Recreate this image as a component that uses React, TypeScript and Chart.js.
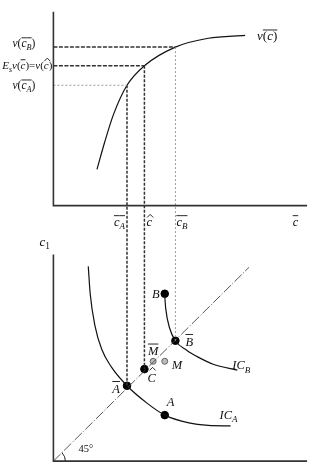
import React, { useEffect, useRef } from "react";
import { Chart, registerables } from "chart.js";

Chart.register(...registerables);

// ---- diagram data (abstract units: x = consumption, y = utility / c1) ----
const X0 = 50;
const X_END = 312;
const TOP_BASE = 267;
const TOP_END = 465;
const BOT_BASE = 6;
const BOT_END = 217;

const V_CURVE_X = [95, 103, 112, 126, 144, 176, 210, 248];
const V_CURVE_Y = [304, 332, 360, 390, 410, 429, 438, 441];

const C_A = 126;
const C_HAT = 144;
const C_B = 176;
const C_BAR = 300;
const V_A = 390;
const V_HAT = 410;
const V_B = 429;

const DIAG_END_X = 252;
const DIAG_END_Y = 204;

const ICA_X = [86, 88, 93, 100, 110, 126, 147, 165, 190, 210, 233];
const ICA_Y = [205, 177, 144, 120, 102, 83, 65, 53, 45, 42.5, 42];
const ICB_X = [165, 166, 170, 176, 188, 200, 215, 240];
const ICB_Y = [175, 162, 142, 129, 119, 112, 105, 99];

const POINT_NAMES = ["Abar", "Chat", "Bbar", "B", "A", "Mbar", "M"];
const POINT_X = [126, 144, 176, 165, 165, 153, 165];
const POINT_Y = [83, 100, 129, 177, 53, 108, 108];
const POINT_GRAY = [false, false, false, false, false, true, true];

// ---- rich text helper ----
type Seg = { t: string; sub?: boolean; bar?: boolean; hat?: boolean; it?: boolean };
const FAMILY = '"Liberation Serif", "DejaVu Serif", serif';

function segFont(s: Seg, size: number) {
  const sz = s.sub ? size * 0.72 : size;
  return `${s.it ? "italic " : ""}${sz}px ${FAMILY}`;
}

function drawRich(
  ctx: CanvasRenderingContext2D,
  segs: Seg[],
  x: number,
  y: number,
  align: "left" | "right" | "center",
  size: number
) {
  const widths = segs.map((s) => {
    ctx.font = segFont(s, size);
    return ctx.measureText(s.t).width;
  });
  const total = widths.reduce((a, b) => a + b, 0);
  let cx = align === "left" ? x : align === "right" ? x - total : x - total / 2;
  ctx.fillStyle = "#111";
  ctx.strokeStyle = "#111";
  ctx.textAlign = "left";
  ctx.textBaseline = "alphabetic";
  segs.forEach((s, i) => {
    ctx.font = segFont(s, size);
    const yy = s.sub ? y + size * 0.28 : y;
    ctx.fillText(s.t, cx, yy);
    const w = widths[i];
    if (s.bar) {
      const upper = s.t.toUpperCase() === s.t && !s.sub && /[A-Z]/.test(s.t);
      const by = y - size * (upper ? 0.82 : 0.72) - 1;
      ctx.lineWidth = 0.9;
      ctx.beginPath();
      ctx.moveTo(cx, by);
      ctx.lineTo(cx + w, by);
      ctx.stroke();
    }
    if (s.hat) {
      const upper = s.t.toUpperCase() === s.t && /[A-Z]/.test(s.t);
      const hy = y - size * (upper ? 0.78 : 0.5) - 2;
      const mid = cx + w / 2 + (s.it ? 1 : 0);
      ctx.lineWidth = 0.9;
      ctx.beginPath();
      ctx.moveTo(mid - 3, hy);
      ctx.lineTo(mid, hy - 3);
      ctx.lineTo(mid + 3, hy);
      ctx.stroke();
    }
    cx += w;
  });
}

type Label = { segs: Seg[]; x: number; y: number; dx: number; dy: number; align: "left" | "right" | "center"; size: number };

const LABELS: Label[] = [
  { segs: [{ t: "v", it: true }, { t: "(" }, { t: "c", it: true, bar: true }, { t: "B", it: true, sub: true, bar: true }, { t: ")" }], x: X0, y: V_B, dx: -18, dy: 0, align: "right", size: 11.5 },
  {
    segs: [
      { t: "E", it: true }, { t: "s", it: true, sub: true }, { t: "v", it: true }, { t: "(" }, { t: "c", it: true, bar: true }, { t: ")=" },
      { t: "v", it: true }, { t: "(" }, { t: "c", it: true, hat: true }, { t: ")" },
    ],
    x: X0, y: V_HAT, dx: -1, dy: 3, align: "right", size: 11,
  },
  { segs: [{ t: "v", it: true }, { t: "(" }, { t: "c", it: true, bar: true }, { t: "A", it: true, sub: true, bar: true }, { t: ")" }], x: X0, y: V_A, dx: -18, dy: 4, align: "right", size: 11.5 },
  { segs: [{ t: "v", it: true }, { t: "(", bar: true }, { t: "c", it: true, bar: true }, { t: ")", bar: true }], x: 248, y: 441, dx: 12, dy: 5, align: "left", size: 13 },
  { segs: [{ t: "c", it: true, bar: true }, { t: "A", it: true, sub: true, bar: true }], x: C_A, y: TOP_BASE, dx: -2, dy: 20, align: "right", size: 12.5 },
  { segs: [{ t: "c", it: true, hat: true }], x: C_HAT, y: TOP_BASE, dx: 2, dy: 20, align: "left", size: 12.5 },
  { segs: [{ t: "c", it: true, bar: true }, { t: "B", it: true, sub: true, bar: true }], x: C_B, y: TOP_BASE, dx: 1, dy: 20, align: "left", size: 12.5 },
  { segs: [{ t: "c", it: true, bar: true }], x: C_BAR, y: TOP_BASE, dx: 0, dy: 20, align: "center", size: 12.5 },
  { segs: [{ t: "c", it: true }, { t: "1", sub: true }], x: X0, y: BOT_END, dx: -14, dy: -9, align: "left", size: 13 },
  { segs: [{ t: "B", it: true }], x: POINT_X[3], y: POINT_Y[3], dx: -5, dy: 4, align: "right", size: 12.5 },
  { segs: [{ t: "B", it: true, bar: true }], x: POINT_X[2], y: POINT_Y[2], dx: 10, dy: 5, align: "left", size: 12.5 },
  { segs: [{ t: "M", it: true, bar: true }], x: POINT_X[5], y: POINT_Y[5], dx: 0, dy: -6, align: "center", size: 12.5 },
  { segs: [{ t: "M", it: true }], x: POINT_X[6], y: POINT_Y[6], dx: 7, dy: 8, align: "left", size: 12.5 },
  { segs: [{ t: "C", it: true, hat: true }], x: POINT_X[1], y: POINT_Y[1], dx: 3, dy: 13, align: "left", size: 12.5 },
  { segs: [{ t: "A", it: true, bar: true }], x: POINT_X[0], y: POINT_Y[0], dx: -7, dy: 7, align: "right", size: 12.5 },
  { segs: [{ t: "A", it: true }], x: POINT_X[4], y: POINT_Y[4], dx: 2, dy: -9, align: "left", size: 12.5 },
  { segs: [{ t: "IC", it: true }, { t: "A", it: true, sub: true }], x: ICA_X[ICA_X.length - 1], y: ICA_Y[ICA_Y.length - 1], dx: -11, dy: -7, align: "left", size: 12.5 },
  { segs: [{ t: "IC", it: true }, { t: "B", it: true, sub: true }], x: ICB_X[ICB_X.length - 1], y: ICB_Y[ICB_Y.length - 1], dx: -5, dy: -1, align: "left", size: 12.5 },
  { segs: [{ t: "45°" }], x: X0, y: BOT_BASE, dx: 25, dy: -9, align: "left", size: 10.5 },
];

const zip = (xs: number[], ys: number[]) => xs.map((x, i) => ({ x, y: ys[i] }));

const labelPlugin = {
  id: "diagramLabels",
  afterDatasetsDraw(chart: any) {
    const ctx: CanvasRenderingContext2D = chart.ctx;
    const sx = chart.scales.x;
    const sy = chart.scales.y;
    ctx.save();
    LABELS.forEach((l) => {
      drawRich(ctx, l.segs, sx.getPixelForValue(l.x) + l.dx, sy.getPixelForValue(l.y) + l.dy, l.align, l.size);
    });
    // 45 degree angle arc at origin
    ctx.strokeStyle = "#222";
    ctx.lineWidth = 1;
    ctx.beginPath();
    ctx.arc(sx.getPixelForValue(X0), sy.getPixelForValue(BOT_BASE), 12, -Math.PI / 4, 0);
    ctx.stroke();
    ctx.restore();
  },
};

export default function App() {
  const ref = useRef<HTMLCanvasElement | null>(null);
  useEffect(() => {
    if (!ref.current) return;
    const axisStyle = { borderColor: "#333", borderWidth: 1.6, showLine: true, pointRadius: 0, fill: false };
    const darkDash = { borderColor: "#333", borderWidth: 1.5, borderDash: [3, 1.5], showLine: true, pointRadius: 0, fill: false };
    const grayDot = { borderColor: "#999", borderWidth: 1, borderDash: [2, 2], showLine: true, pointRadius: 0, fill: false };
    const curve = { borderColor: "#111", borderWidth: 1.2, showLine: true, pointRadius: 0, fill: false, cubicInterpolationMode: "monotone" as const };

    const chart = new Chart(ref.current, {
      type: "scatter",
      data: {
        datasets: [
          { ...axisStyle, data: [{ x: X0, y: TOP_END }, { x: X0, y: TOP_BASE }, { x: X_END, y: TOP_BASE }] },
          { ...axisStyle, data: [{ x: X0, y: BOT_END }, { x: X0, y: BOT_BASE }, { x: X_END, y: BOT_BASE }] },
          { ...darkDash, borderDash: [4, 1.5], data: [{ x: X0, y: V_B }, { x: C_B, y: V_B }] },
          { ...darkDash, borderDash: [4, 1.5], data: [{ x: X0, y: V_HAT }, { x: C_HAT, y: V_HAT }] },
          { ...grayDot, data: [{ x: X0, y: V_A }, { x: C_A, y: V_A }] },
          { ...darkDash, data: [{ x: C_A, y: V_A }, { x: C_A, y: POINT_Y[0] }] },
          { ...darkDash, data: [{ x: C_HAT, y: V_HAT }, { x: C_HAT, y: POINT_Y[1] }] },
          { ...grayDot, data: [{ x: C_B, y: V_B }, { x: C_B, y: POINT_Y[2] }] },
          { borderColor: "#444", borderWidth: 0.9, borderDash: [10, 2, 1, 2], showLine: true, pointRadius: 0, fill: false, data: [{ x: X0, y: BOT_BASE }, { x: DIAG_END_X, y: DIAG_END_Y }] },
          { ...curve, data: zip(V_CURVE_X, V_CURVE_Y) },
          { ...curve, data: zip(ICA_X, ICA_Y) },
          { ...curve, data: zip(ICB_X, ICB_Y) },
          {
            showLine: false,
            data: POINT_NAMES.map((_, i) => ({ x: POINT_X[i], y: POINT_Y[i] })),
            pointRadius: POINT_GRAY.map((g) => (g ? 3 : 3.8)),
            pointBackgroundColor: POINT_GRAY.map((g) => (g ? "#bbb" : "#000")),
            pointBorderColor: POINT_GRAY.map((g) => (g ? "#666" : "#000")),
            pointBorderWidth: 1,
          },
        ] as any,
      },
      options: {
        animation: false,
        responsive: false,
        maintainAspectRatio: false,
        layout: { padding: 0 },
        plugins: { legend: { display: false }, tooltip: { enabled: false } },
        elements: { line: { tension: 0 } },
        scales: {
          x: { type: "linear", min: 0, max: 314, display: false },
          y: { type: "linear", min: 0, max: 472, display: false },
        },
        datasets: { scatter: { clip: false } } as any,
      },
      plugins: [labelPlugin],
    });
    return () => chart.destroy();
  }, []);

  return (
    <div style={{ position: "absolute", left: 0, top: 0, width: 314, height: 472, background: "#fff" }}>
      <canvas ref={ref} width={314} height={472} />
    </div>
  );
}
